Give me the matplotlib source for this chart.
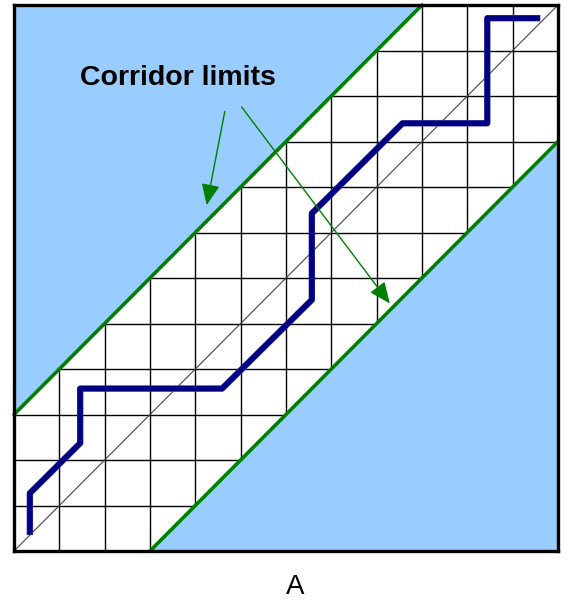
import matplotlib
matplotlib.use("Agg")
import matplotlib.pyplot as plt
import matplotlib.patheffects as pe

# grid size (cells per side)
n_cells = 12

# corridor limits (upper and lower boundary lines)
upper_x = [0, 9]
upper_y = [3, 12]
lower_x = [3, 12]
lower_y = [0, 9]

# warping path
path_x = [0.35, 0.35, 1.46, 1.46, 4.59, 6.57, 6.57, 8.57, 10.44, 10.44, 11.54]
path_y = [0.42, 1.27, 2.37, 3.57, 3.57, 5.52, 7.42, 9.40, 9.40, 11.71, 11.71]

label_text = "Corridor limits"
caption = "A"

fig = plt.figure(figsize=(5.68, 6.06), dpi=100)
ax = fig.add_axes([14 / 568, 55 / 606, 544 / 568, 546 / 606])
ax.set_xlim(0, n_cells)
ax.set_ylim(0, n_cells)
ax.set_xticks([])
ax.set_yticks([])
for s in ax.spines.values():
    s.set_linewidth(2.4)
    s.set_color("black")
    s.set_zorder(10)

# grid
for i in range(1, n_cells):
    ax.plot([i, i], [0, n_cells], color="black", lw=1.0, zorder=1)
    ax.plot([0, n_cells], [i, i], color="black", lw=1.0, zorder=1)

# blue areas outside the corridor
blue = "#99ccff"
ax.fill([upper_x[0], upper_x[0], upper_x[1]], [upper_y[0], n_cells, upper_y[1]],
        color=blue, lw=0, zorder=2)
ax.fill([lower_x[0], lower_x[1], lower_x[1]], [lower_y[0], lower_y[0], lower_y[1]],
        color=blue, lw=0, zorder=2)

# diagonal
ax.plot([0, n_cells], [0, n_cells], color="#444444", lw=0.8, zorder=3)

# corridor limits
ax.plot(upper_x, upper_y, color="#008000", lw=2.6, zorder=4, solid_capstyle="round", clip_on=False)
ax.plot(lower_x, lower_y, color="#008000", lw=2.6, zorder=4, solid_capstyle="round", clip_on=False)

# path
ax.plot(path_x, path_y, color="#000080", lw=3.8, zorder=5,
        path_effects=[pe.Stroke(linewidth=4.6, foreground="#3a3aa8"), pe.Normal()])

# label + arrows
ax.text(3.62, 10.40, label_text, fontsize=20.5, fontweight="bold",
        family=["Liberation Sans", "DejaVu Sans"], ha="center", va="center", zorder=7)
arrow_kw = dict(arrowstyle="-|>,head_length=0.65,head_width=0.28", color="#008000",
                lw=1.0, mutation_scale=20, shrinkA=0, shrinkB=0)
ax.annotate("", xy=(4.25, 7.60), xytext=(4.65, 9.66), arrowprops=arrow_kw, zorder=6)
ax.annotate("", xy=(8.29, 5.44), xytext=(5.02, 9.76), arrowprops=arrow_kw, zorder=6)

fig.text(0.519, 0.031, caption, fontsize=20, family=["Liberation Sans", "DejaVu Sans"],
         ha="center", va="center")

fig.savefig("out.png", dpi=100)
